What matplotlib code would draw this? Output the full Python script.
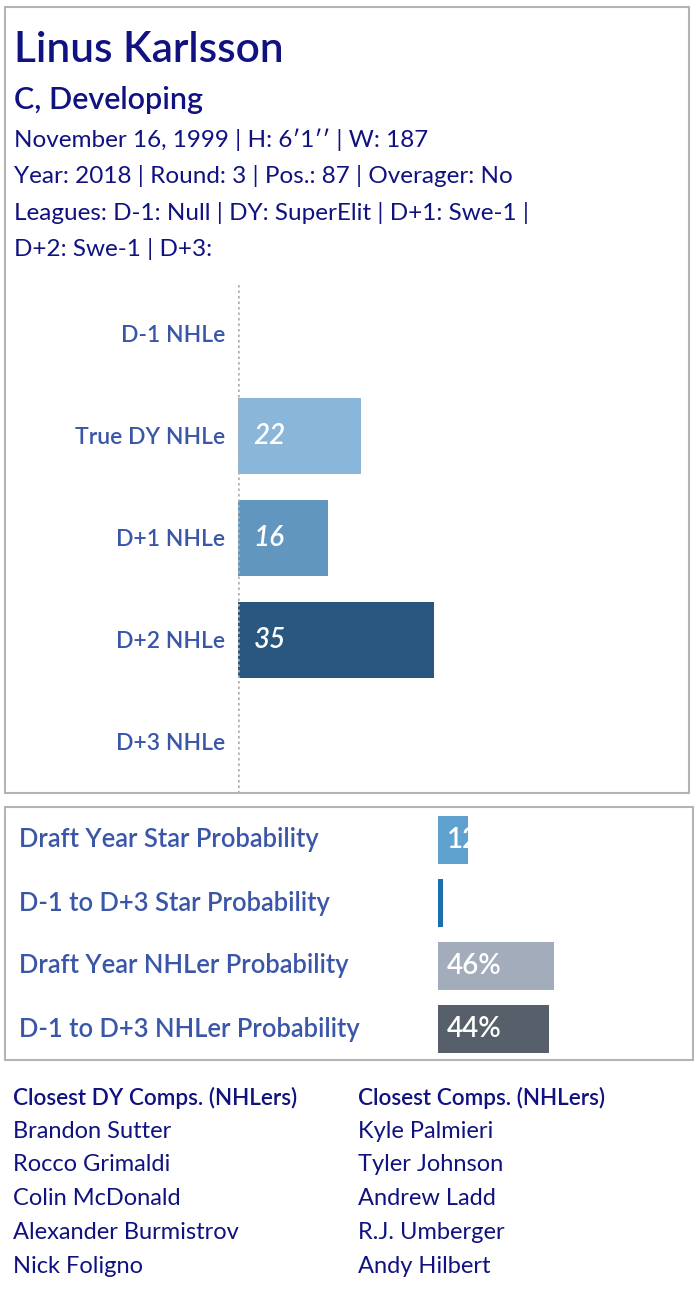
import matplotlib.pyplot as plt
import matplotlib.patches as mpatches
import matplotlib.transforms as mtransforms
import numpy as np

W, H = 696, 1310
plt.rcParams["font.family"] = ["Lato", "DejaVu Sans"]

# header info
player = "Linus Karlsson"
subtitle = "C, Developing"
info_lines = [
    "November 16, 1999 | H: 6\u20321\u2032\u2032 | W: 187",
    "Year: 2018 | Round: 3 | Pos.: 87 | Overager: No",
    "Leagues: D-1: Null | DY: SuperElit | D+1: Swe-1 |",
    "D+2: Swe-1 | D+3:",
]

# NHLe bars
nhle_labels = ["D-1 NHLe", "True DY NHLe", "D+1 NHLe", "D+2 NHLe", "D+3 NHLe"]
nhle_values = [np.nan, 22, 16, 35, np.nan]
nhle_colors = ["#89b6d9", "#89b6d9", "#6196bf", "#2a5780", "#2a5780"]

# probability bars
prob_labels = [
    "Draft Year Star Probability",
    "D-1 to D+3 Star Probability",
    "Draft Year NHLer Probability",
    "D-1 to D+3 NHLer Probability",
]
prob_values = [12, 2, 46, 44]
prob_colors = ["#5fa2cf", "#1a6fae", "#a3acba", "#575f6b"]

# comps
dy_comps = ["Brandon Sutter", "Rocco Grimaldi", "Colin McDonald",
            "Alexander Burmistrov", "Nick Foligno"]
all_comps = ["Kyle Palmieri", "Tyler Johnson", "Andrew Ladd",
             "R.J. Umberger", "Andy Hilbert"]

navy = "#0f1280"
label_blue = "#3a56a8"


def box(x0, y0, x1, y1):
    return [x0 / W, 1 - y1 / H, (x1 - x0) / W, (y1 - y0) / H]


def ftext(x, y, s, **kw):
    fig.text(x / W, 1 - y / H, s, va="center", **kw)


fig = plt.figure(figsize=(W / 100, H / 100), dpi=100)

# panel borders
for x0, y0, x1, y1 in [(5, 7, 689, 793), (5, 807, 693, 1060)]:
    fig.patches.append(mpatches.Rectangle(
        (x0 / W, 1 - y1 / H), (x1 - x0) / W, (y1 - y0) / H,
        transform=fig.transFigure, fill=False, edgecolor="#b4b4b4", lw=1.5))

# header
ftext(14, 50, player, fontsize=30.5, color=navy, fontweight="semibold")
ftext(14, 100, subtitle, fontsize=22, color=navy, fontweight="semibold")
for i, line in enumerate(info_lines):
    ftext(14, 140 + i * 36.3, line, fontsize=17.5, color=navy)

# NHLe chart
ax = fig.add_axes(box(238, 283, 689, 793))
y = np.arange(len(nhle_labels))
ax.barh(y, nhle_values, height=0.75, color=nhle_colors)
for yi, v in zip(y, nhle_values):
    if not np.isnan(v):
        ax.text(2.8, yi, f"{v:.0f}", color="white", fontsize=20,
                style="italic", fontweight="semibold", va="center", ha="left")
ax.axvline(0, color="#b0b0b0", ls=(0, (1, 1.2)), lw=1.8)
ax.set_xlim(0, 80.5)
ax.set_ylim(len(nhle_labels) - 0.5, -0.5)
ax.set_yticks(y)
ax.set_yticklabels(nhle_labels, fontsize=16.5, color=label_blue,
                   fontweight="semibold")
ax.tick_params(axis="y", length=0, pad=9)
ax.set_xticks([])
for s in ax.spines.values():
    s.set_visible(False)

# probability chart
ax2 = fig.add_axes(box(438, 808.5, 693, 1060.5))
y2 = np.arange(len(prob_labels))
bars = ax2.barh(y2, prob_values, height=0.76, color=prob_colors)
for yi, v, b in zip(y2, prob_values, bars):
    t = ax2.text(3.4, yi, f"{v}%", color="white", fontsize=20,
                 fontweight="semibold", va="center", ha="left")
    t.set_clip_path(b)
ax2.set_xlim(0, 101)
ax2.set_ylim(len(prob_labels) - 0.5, -0.5)
ax2.axis("off")
trans = mtransforms.blended_transform_factory(fig.transFigure, ax2.transData)
for yi, lab in zip(y2, prob_labels):
    ax2.text(19 / W, yi, lab, transform=trans, fontsize=18.4,
             color=label_blue, fontweight="semibold", va="center", ha="left")

# comps lists
for x0, head, names in [(13, "Closest DY Comps. (NHLers)", dy_comps),
                        (358, "Closest Comps. (NHLers)", all_comps)]:
    ftext(x0, 1098, head, fontsize=16.2, color=navy, fontweight="semibold")
    for i, n in enumerate(names):
        ftext(x0, 1131 + i * 33.8, n, fontsize=17, color=navy)

fig.savefig("out.png", dpi=100)
